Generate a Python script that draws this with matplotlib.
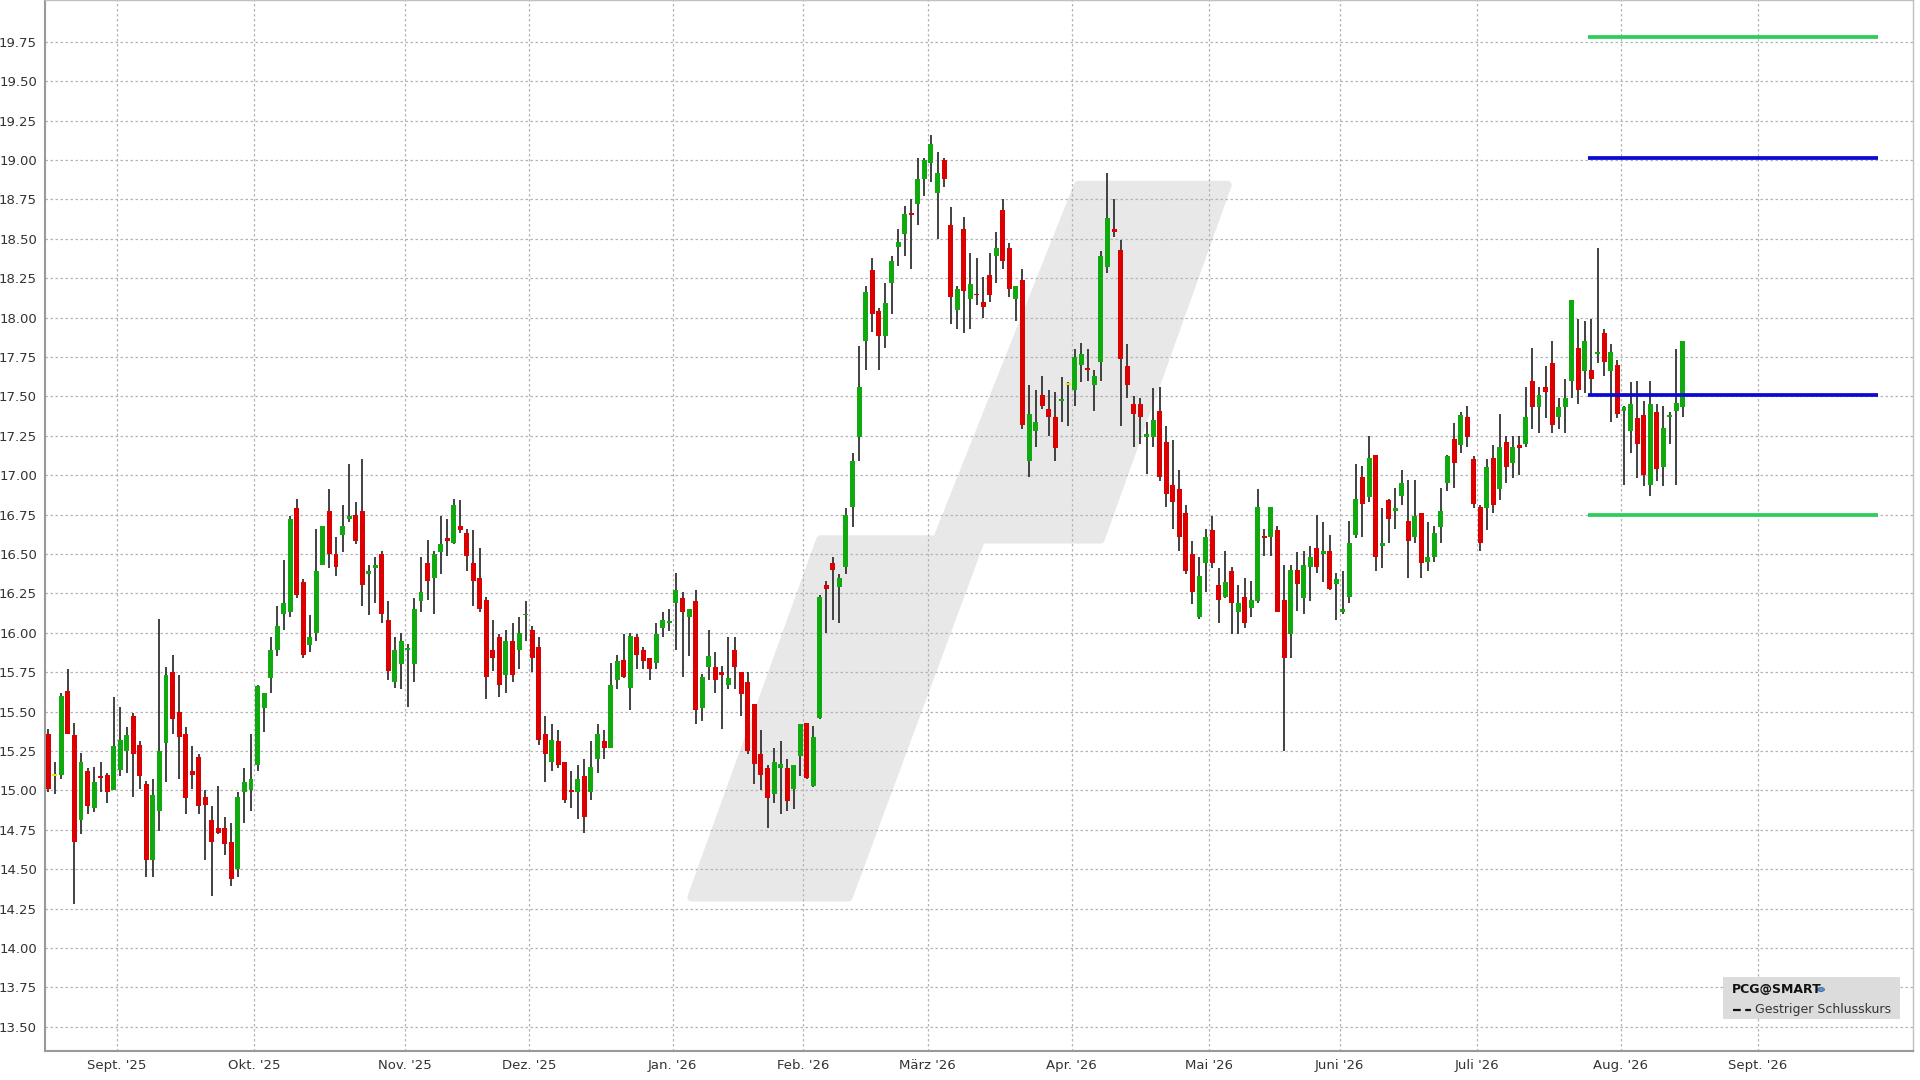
import numpy as np
import pandas as pd
import matplotlib.pyplot as plt
from matplotlib.patches import Polygon, Rectangle, Circle
from matplotlib.lines import Line2D

# trading calendar (NYSE days)
first_day = '2025-08-15'
holidays = ['2025-09-01', '2025-11-27', '2025-12-25', '2026-01-01', '2026-01-19',
            '2026-02-16', '2026-04-03', '2026-05-25', '2026-06-19', '2026-07-03',
            '2026-09-07']

opens = [15.36, 15.09, 15.10, 15.63, 15.35, 14.81, 15.12, 14.89, 15.09, 15.10,
         15.00, 15.13, 15.25, 15.47, 15.29, 15.04, 14.56, 14.87, 15.30, 15.75,
         15.50, 15.36, 15.12, 15.21, 14.96, 14.81, 14.76, 14.76, 14.67, 14.50,
         14.99, 15.00, 15.16, 15.52, 15.71, 15.89, 16.12, 16.13, 16.79, 16.32,
         15.92, 16.00, 16.43, 16.77, 16.50, 16.62, 16.72, 16.75, 16.77, 16.37,
         16.41, 16.50, 16.08, 15.69, 15.80, 15.89, 15.80, 16.20, 16.44, 16.35,
         16.51, 16.60, 16.57, 16.68, 16.63, 16.44, 16.35, 16.21, 15.89, 15.97,
         15.73, 15.95, 15.89, 16.11, 16.02, 15.91, 15.36, 15.18, 15.31, 15.18,
         15.00, 14.99, 15.09, 14.99, 15.20, 15.31, 15.27, 15.70, 15.83, 15.65,
         15.97, 15.89, 15.84, 15.81, 16.03, 16.06, 16.19, 16.22, 16.10, 16.20,
         15.52, 15.78, 15.78, 15.75, 15.67, 15.89, 15.75, 15.69, 15.55, 15.23,
         15.14, 14.98, 15.14, 15.14, 15.01, 15.22, 15.43, 15.03, 15.46, 16.30,
         16.44, 16.29, 16.42, 16.80, 17.24, 17.85, 18.30, 18.04, 17.88, 18.22,
         18.45, 18.53, 18.66, 18.72, 18.88, 18.98, 18.79, 19.00, 18.59, 18.05,
         18.56, 18.12, 18.15, 18.10, 18.27, 18.39, 18.68, 18.44, 18.12, 18.24,
         17.09, 17.28, 17.51, 17.42, 17.37, 17.47, 17.57, 17.54, 17.70, 17.68,
         17.57, 17.72, 18.32, 18.56, 18.43, 17.69, 17.45, 17.45, 17.24, 17.24,
         17.41, 17.21, 16.94, 16.91, 16.76, 16.50, 16.10, 16.44, 16.65, 16.30,
         16.23, 16.39, 16.13, 16.23, 16.16, 16.20, 16.61, 16.61, 16.65, 16.21,
         15.99, 16.40, 16.22, 16.42, 16.54, 16.50, 16.52, 16.31, 16.13, 16.23,
         16.62, 16.99, 16.86, 17.13, 16.55, 16.84, 16.77, 16.87, 16.71, 16.61,
         16.76, 16.45, 16.48, 16.67, 16.95, 17.23, 17.19, 17.37, 17.10, 16.80,
         16.79, 17.11, 16.91, 17.21, 17.08, 17.19, 17.20, 17.60, 17.43, 17.56,
         17.71, 17.37, 17.43, 17.60, 17.81, 17.66, 17.67, 17.77, 17.90, 17.66,
         17.70, 17.41, 17.28, 17.36, 17.38, 16.94, 17.40, 17.05, 17.37, 17.41,
         17.43]
highs = [15.39, 15.18, 15.62, 15.77, 15.43, 15.24, 15.14, 15.15, 15.18, 15.11,
         15.59, 15.53, 15.40, 15.49, 15.31, 15.06, 15.07, 16.09, 15.78, 15.86,
         15.73, 15.40, 15.28, 15.23, 15.00, 14.90, 15.03, 14.83, 14.79, 14.99,
         15.14, 15.36, 15.67, 15.62, 15.97, 16.17, 16.46, 16.74, 16.85, 16.34,
         16.11, 16.66, 16.68, 16.91, 16.61, 16.81, 17.07, 16.83, 17.10, 16.43,
         16.48, 16.52, 16.20, 15.97, 16.00, 15.93, 16.22, 16.48, 16.59, 16.52,
         16.74, 16.72, 16.85, 16.84, 16.66, 16.65, 16.54, 16.23, 16.08, 15.99,
         16.02, 16.06, 16.10, 16.20, 16.04, 15.97, 15.47, 15.42, 15.38, 15.18,
         15.12, 15.16, 15.20, 15.31, 15.42, 15.38, 15.81, 15.86, 15.99, 16.00,
         15.99, 15.91, 15.84, 16.06, 16.13, 16.15, 16.38, 16.26, 16.15, 16.27,
         15.74, 16.02, 15.88, 15.79, 15.97, 15.97, 15.75, 15.75, 15.55, 15.38,
         15.16, 15.27, 15.31, 15.20, 15.16, 15.42, 15.43, 15.41, 16.24, 16.33,
         16.48, 16.37, 16.79, 17.14, 17.82, 18.20, 18.38, 18.06, 18.22, 18.39,
         18.56, 18.71, 18.75, 19.01, 19.01, 19.16, 19.05, 19.01, 18.70, 18.20,
         18.64, 18.41, 18.38, 18.26, 18.41, 18.54, 18.75, 18.47, 18.20, 18.31,
         17.57, 17.54, 17.63, 17.54, 17.53, 17.62, 17.59, 17.80, 17.84, 17.80,
         17.67, 18.42, 18.92, 18.75, 18.49, 17.83, 17.50, 17.49, 17.34, 17.55,
         17.56, 17.31, 17.22, 17.03, 16.81, 16.58, 16.48, 16.66, 16.74, 16.41,
         16.52, 16.42, 16.30, 16.35, 16.33, 16.91, 16.66, 16.80, 16.68, 16.43,
         16.43, 16.51, 16.52, 16.55, 16.75, 16.70, 16.62, 16.38, 16.39, 16.71,
         17.07, 17.06, 17.25, 17.13, 16.79, 16.85, 16.92, 17.03, 16.97, 16.97,
         16.76, 16.70, 16.68, 16.92, 17.13, 17.33, 17.40, 17.44, 17.12, 16.81,
         17.10, 17.19, 17.39, 17.25, 17.25, 17.25, 17.56, 17.81, 17.56, 17.69,
         17.85, 17.49, 17.61, 18.11, 17.99, 17.98, 17.99, 18.44, 17.93, 17.83,
         17.73, 17.44, 17.59, 17.60, 17.47, 17.60, 17.45, 17.44, 17.40, 17.80,
         17.85]
lows = [14.99, 14.98, 15.07, 15.36, 14.28, 14.72, 14.85, 14.86, 14.99, 14.92,
        15.00, 15.09, 15.11, 14.96, 15.01, 14.45, 14.45, 14.74, 15.05, 15.36,
        15.07, 14.85, 15.01, 14.85, 14.56, 14.33, 14.72, 14.59, 14.39, 14.45,
        14.79, 14.87, 15.12, 15.37, 15.62, 15.85, 16.02, 16.10, 16.22, 15.84,
        15.88, 15.95, 16.43, 16.41, 16.36, 16.51, 16.70, 16.56, 16.17, 16.11,
        16.19, 16.06, 15.70, 15.65, 15.64, 15.53, 15.69, 16.13, 16.21, 16.12,
        16.37, 16.49, 16.56, 16.63, 16.39, 16.17, 16.13, 15.58, 15.76, 15.59,
        15.62, 15.69, 15.77, 15.95, 15.75, 15.29, 15.05, 15.12, 15.14, 14.92,
        14.89, 14.82, 14.73, 14.94, 15.11, 15.20, 15.27, 15.64, 15.71, 15.51,
        15.77, 15.77, 15.70, 15.77, 15.97, 16.01, 15.89, 15.72, 15.85, 15.42,
        15.44, 15.70, 15.62, 15.39, 15.64, 15.64, 15.47, 15.23, 15.04, 15.00,
        14.76, 14.92, 14.85, 14.87, 14.88, 15.09, 15.07, 15.02, 15.45, 16.00,
        16.08, 16.06, 16.37, 16.67, 17.09, 17.67, 17.91, 17.67, 17.81, 18.02,
        18.33, 18.39, 18.31, 18.59, 18.77, 18.86, 18.50, 18.83, 17.96, 17.93,
        17.90, 17.93, 18.08, 18.00, 18.10, 18.22, 18.31, 18.13, 17.98, 17.29,
        16.99, 17.18, 17.42, 17.25, 17.09, 17.34, 17.31, 17.44, 17.59, 17.60,
        17.41, 17.60, 18.28, 18.51, 17.31, 17.49, 17.18, 17.20, 17.01, 17.18,
        16.96, 16.80, 16.66, 16.52, 16.37, 16.18, 16.09, 16.26, 16.41, 16.06,
        16.22, 15.99, 15.99, 16.03, 16.10, 16.19, 16.49, 16.49, 16.13, 15.25,
        15.84, 16.14, 16.12, 16.20, 16.38, 16.32, 16.27, 16.08, 16.12, 16.19,
        16.60, 16.61, 16.83, 16.39, 16.41, 16.57, 16.66, 16.81, 16.35, 16.57,
        16.35, 16.39, 16.45, 16.57, 16.90, 16.92, 17.14, 17.18, 16.79, 16.52,
        16.65, 16.76, 16.84, 16.95, 16.98, 17.00, 17.18, 17.29, 17.27, 17.36,
        17.27, 17.29, 17.27, 17.49, 17.45, 17.52, 17.51, 17.71, 17.63, 17.34,
        17.36, 16.94, 17.14, 16.98, 16.93, 16.87, 16.96, 16.93, 17.20, 16.94,
        17.37]
closes = [15.01, 15.09, 15.60, 15.36, 14.67, 15.18, 14.90, 15.05, 15.08, 14.99,
          15.28, 15.32, 15.35, 15.23, 15.09, 14.56, 14.97, 15.25, 15.73, 15.45,
          15.34, 14.95, 15.10, 14.90, 14.91, 14.67, 14.73, 14.66, 14.44, 14.96,
          15.05, 15.07, 15.66, 15.62, 15.89, 16.04, 16.19, 16.72, 16.24, 15.86,
          15.97, 16.39, 16.68, 16.50, 16.42, 16.68, 16.74, 16.58, 16.30, 16.39,
          16.43, 16.12, 15.76, 15.89, 15.95, 15.90, 16.15, 16.26, 16.33, 16.50,
          16.56, 16.58, 16.81, 16.65, 16.49, 16.33, 16.15, 15.72, 15.84, 15.67,
          15.95, 15.73, 16.00, 16.12, 15.84, 15.32, 15.23, 15.32, 15.16, 14.94,
          14.99, 15.07, 14.83, 15.15, 15.36, 15.27, 15.67, 15.82, 15.72, 15.98,
          15.86, 15.82, 15.77, 15.99, 16.08, 16.07, 16.27, 16.13, 16.15, 15.51,
          15.72, 15.85, 15.70, 15.73, 15.71, 15.78, 15.61, 15.25, 15.17, 15.10,
          14.95, 15.18, 15.17, 14.93, 15.16, 15.42, 15.08, 15.34, 16.23, 16.28,
          16.40, 16.35, 16.75, 17.09, 17.56, 18.16, 18.02, 17.88, 18.09, 18.36,
          18.48, 18.66, 18.65, 18.88, 19.00, 19.10, 18.92, 18.88, 18.13, 18.18,
          18.17, 18.21, 18.14, 18.07, 18.14, 18.44, 18.36, 18.18, 18.20, 17.32,
          17.39, 17.34, 17.44, 17.37, 17.17, 17.48, 17.57, 17.75, 17.77, 17.67,
          17.63, 18.39, 18.63, 18.54, 17.74, 17.57, 17.39, 17.37, 17.26, 17.35,
          16.99, 16.88, 16.83, 16.61, 16.39, 16.26, 16.36, 16.61, 16.44, 16.21,
          16.32, 16.19, 16.19, 16.06, 16.21, 16.80, 16.60, 16.80, 16.13, 15.84,
          16.40, 16.31, 16.43, 16.48, 16.42, 16.52, 16.28, 16.34, 16.15, 16.57,
          16.85, 16.82, 17.11, 16.48, 16.57, 16.72, 16.79, 16.95, 16.58, 16.74,
          16.44, 16.48, 16.63, 16.77, 17.12, 17.08, 17.38, 17.24, 16.82, 16.57,
          17.05, 16.81, 17.18, 17.05, 17.18, 17.17, 17.37, 17.43, 17.51, 17.53,
          17.32, 17.43, 17.49, 18.11, 17.54, 17.85, 17.61, 17.78, 17.72, 17.78,
          17.39, 17.43, 17.45, 17.20, 17.00, 17.45, 17.04, 17.30, 17.38, 17.46,
          17.85]

green_levels = [19.78, 16.75]
blue_levels = [19.01, 17.51]

month_names = {1: 'Jan.', 2: 'Feb.', 3: 'März', 4: 'Apr.', 5: 'Mai', 6: 'Juni',
               7: 'Juli', 8: 'Aug.', 9: 'Sept.', 10: 'Okt.', 11: 'Nov.', 12: 'Dez.'}

days = pd.bdate_range(first_day, '2026-10-30')
days = days[~days.isin(pd.to_datetime(holidays))]

o = np.array(opens)
h = np.array(highs)
l = np.array(lows)
c = np.array(closes)
x = np.arange(len(o))

fig = plt.figure(figsize=(19.2, 10.8), dpi=100)
ax = fig.add_axes([45.3 / 1920, 1 - 1050.7 / 1080, (1913 - 45.3) / 1920, 1050.7 / 1080])

# background logo
logo = [(0.3460, 0.1460), (0.4150, 0.4866), (0.4774, 0.4866), (0.5530, 0.8240),
        (0.6330, 0.8240), (0.5650, 0.4866), (0.5010, 0.4866), (0.4300, 0.1460)]
ax.add_patch(Polygon(logo, closed=True, transform=ax.transAxes, facecolor='#e8e8e8',
                     edgecolor='#e8e8e8', linewidth=6, joinstyle='round', zorder=0.1))

# candles
colors = np.where(c > o, '#10aa10', np.where(c < o, '#dd0000', '#e6e600'))
ax.vlines(x, l, h, color='#333333', linewidth=1.3, zorder=2)
bottoms = np.minimum(o, c)
heights = np.maximum(np.abs(c - o), 0.012)
ax.bar(x, heights, bottom=bottoms, width=0.76, color=colors, linewidth=0, zorder=3)

# levels
ax.hlines(green_levels, 235.5, 279.8, color='#2ecc5c', linewidth=2.7, zorder=4)
ax.hlines(blue_levels, 235.5, 279.8, color='#0a0ad2', linewidth=2.7, zorder=4)

# month ticks
tick_pos = []
tick_lab = []
for i in range(1, len(days)):
    if days[i].month != days[i - 1].month and i < 270:
        tick_pos.append(i - 0.5)
        tick_lab.append(f"{month_names[days[i].month]} '{days[i].year % 100:02d}")

ax.set_xticks(tick_pos)
ax.set_xticklabels(tick_lab)
ax.set_yticks(np.arange(13.5, 19.76, 0.25))
ax.yaxis.set_major_formatter(plt.FormatStrFormatter('%.2f'))
ax.set_xlim(-0.46, 285.2)
ax.set_ylim(13.348, 20.015)

ax.set_axisbelow(True)
ax.grid(True, color='#b4b4b4', linestyle=(0, (2, 2)), linewidth=0.9)
ax.tick_params(length=0, labelsize=9.5, labelcolor='#333333', pad=6)
for side in ['left', 'bottom']:
    ax.spines[side].set_color('#999999')
    ax.spines[side].set_linewidth(1.5)
for side in ['top', 'right']:
    ax.spines[side].set_color('#c0c0c0')
    ax.spines[side].set_linewidth(1.0)

# legend box
fig.patches.append(Rectangle((1723 / 1920, 1 - 1019.3 / 1080), 177 / 1920, 42 / 1080,
                             transform=fig.transFigure, facecolor='#dcdcdc',
                             edgecolor='none', zorder=5))
fig.text(1732 / 1920, 1 - 989.5 / 1080, 'PCG@SMART', fontsize=9, fontweight='bold',
         color='#111111', va='center', ha='left', zorder=6)
fig.patches.append(Circle((1821 / 1920, 1 - 989.5 / 1080), 3.5 / 1920,
                          transform=fig.transFigure, facecolor='#5a8fc8',
                          edgecolor='#2a5a90', linewidth=0.5, zorder=6))
fig.lines.append(Line2D([1733 / 1920, 1751 / 1920], [1 - 1010 / 1080] * 2,
                        transform=fig.transFigure, color='#111111', linewidth=1.6,
                        linestyle=(0, (3.5, 2)), zorder=6))
fig.text(1755 / 1920, 1 - 1010 / 1080, 'Gestriger Schlusskurs', fontsize=9,
         color='#333333', va='center', ha='left', zorder=6)
fig.patches.append(Rectangle((1884 / 1920, 1 - 1013 / 1080), 6 / 1920, 6 / 1080,
                             transform=fig.transFigure, facecolor='#f4f4f4',
                             edgecolor='#cccccc', linewidth=0.5, zorder=6))

fig.savefig('out.png', dpi=100)
